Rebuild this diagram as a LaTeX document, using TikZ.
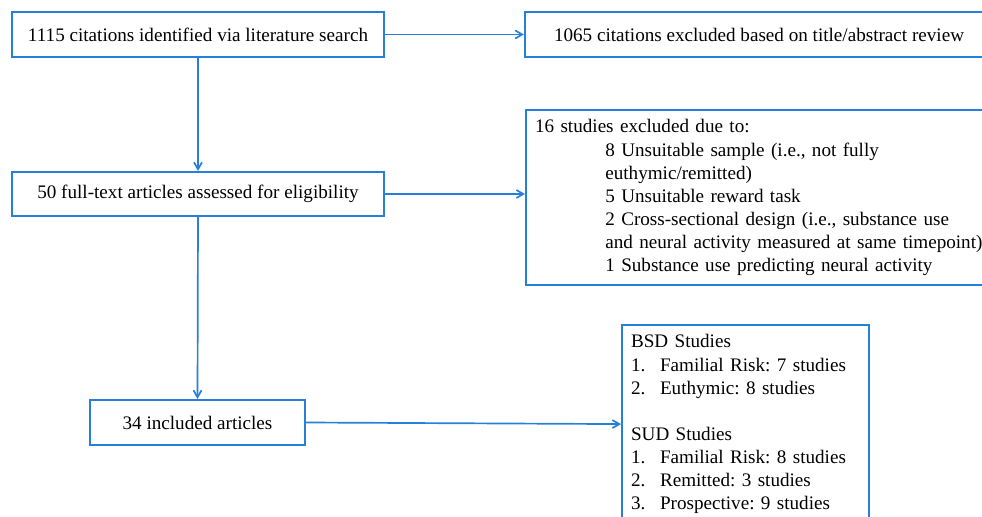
\documentclass[tikz,border=0pt]{standalone}
\usepackage{fontspec}
\setmainfont{Liberation Serif}
\usetikzlibrary{arrows,positioning}
\definecolor{flowblue}{RGB}{38,128,217}

\begin{document}
\begin{tikzpicture}[thick, x=0.025cm, y=-0.025cm, >=angle 60,
  box/.style={draw=flowblue, line width=1.5pt, minimum height=1.125cm, inner sep=0pt,
    font=\fontsize{13.6}{16.4}\selectfont\frenchspacing},
  listbox/.style={box, anchor=north west, align=left, inner xsep=0.225cm},
  link/.style={->, draw=flowblue, line width=1.2pt}]
%%%%% Frame %%%%%
\clip (0,0) rectangle (982,517);
%%%%% Boxes %%%%%
\node[box, minimum width=9.3cm] (found) at (198,34.5) {1115 citations identified via literature search};
\node[box, minimum width=11.7cm] (dropped) at (759,34.5) {1065 citations excluded based on title/abstract review};
\node[box, minimum width=9.3cm, minimum height=1.1cm] (fulltext) at (198,194) {50 full-text articles assessed for eligibility};
\node[listbox, text width=11.6cm, minimum height=4.375cm] (reasons) at (525,109) {%
16 studies excluded due to:\\
\hspace*{50pt}8 Unsuitable sample (i.e., not fully\\
\hspace*{50pt}euthymic/remitted)\\
\hspace*{50pt}5 Unsuitable reward task\\
\hspace*{50pt}2 Cross-sectional design (i.e., substance use\\
\hspace*{50pt}\mbox{and neural activity measured at same timepoint)}\\
\hspace*{50pt}1 Substance use predicting neural activity};
\node[box, minimum width=5.375cm] (included) at (197.5,422.5) {34 included articles};
\node[listbox, text width=5.725cm, minimum height=4.95cm] (studies) at (621,324) {%
BSD Studies\\
\makebox[20.6pt][l]{1.}Familial Risk: 7 studies\\
\makebox[20.6pt][l]{2.}Euthymic: 8 studies\\[16.4pt]
SUD Studies\\
\makebox[20.6pt][l]{1.}Familial Risk: 8 studies\\
\makebox[20.6pt][l]{2.}Remitted: 3 studies\\
\makebox[20.6pt][l]{3.}Prospective: 9 studies};
%%%%% Arrows %%%%%
\draw[link] (found.south) -- (fulltext.north);
\draw[link] (found.east) -- (dropped.west);
\draw[link] (fulltext.east) -- (fulltext.east -| reasons.west);
\draw[link] (fulltext.south) -- (included.north);
\draw[link] (included.east) -- (studies.west);
\end{tikzpicture}
\end{document}
